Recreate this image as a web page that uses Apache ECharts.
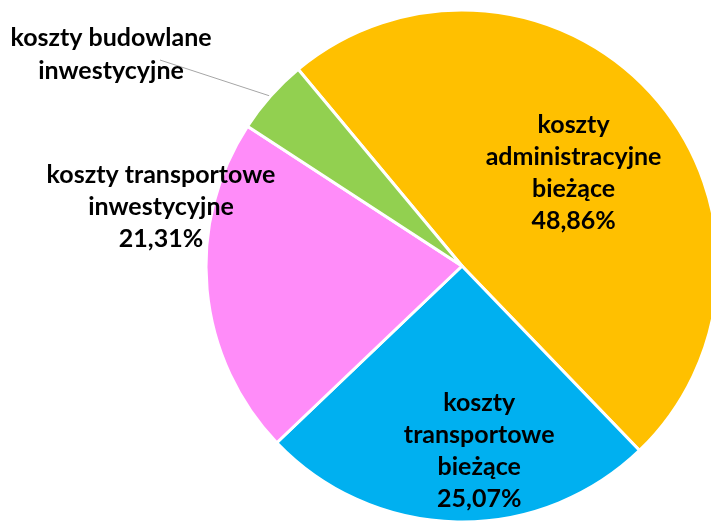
<!DOCTYPE html>
<html>
<head>
<meta charset="utf-8">
<script src="https://cdn.jsdelivr.net/npm/echarts@6/dist/echarts.min.js"></script>
<style>
  html, body { margin: 0; padding: 0; background: #fff; }
  #chart { width: 711px; height: 523px; }
</style>
</head>
<body>
<div id="chart"></div>
<script>
const categories = [
  'koszty\nadministracyjne\nbieżące',
  'koszty\ntransportowe\nbieżące',
  'koszty transportowe\ninwestycyjne',
  'koszty budowlane\ninwestycyjne'
];
const values = [48.86, 25.07, 21.31, 4.76];
const colors = ['#FFC000', '#00B0F0', '#FF8CF9', '#92D050'];
const showPercent = [true, true, true, false];

const chart = echarts.init(document.getElementById('chart'));

const fmt = v => v.toFixed(2).replace('.', ',') + '%';

const option = {
  animation: false,
  series: [
    {
      type: 'pie',
      center: [462, 266],
      radius: [0, 256],
      startAngle: 129.8,
      clockwise: true,
      itemStyle: { borderColor: '#fff', borderWidth: 3 },
      label: {
        color: '#000',
        fontFamily: 'Lato',
        fontWeight: 'bold',
        fontSize: 25,
        lineHeight: 32,
        align: 'center',
        overflow: 'none',
        formatter: p => showPercent[p.dataIndex] ? p.name + '\n' + fmt(p.value) : p.name
      },
      labelLine: { lineStyle: { color: '#A6A6A6', width: 1 } },
      labelLayout: p => {
        if (p.dataIndex === 0) return { dx: 14, dy: -6 };
        if (p.dataIndex === 1) return { dx: 20, dy: 54 };
        if (p.dataIndex === 2) return { x: 161, y: 207, align: 'center', verticalAlign: 'middle' };
        return {
          x: 111, y: 54, align: 'center', verticalAlign: 'middle',
          labelLinePoints: [[270, 96], [160, 60], [160, 60]]
        };
      },
      data: categories.map((name, i) => ({
        name,
        value: values[i],
        itemStyle: { color: colors[i] },
        label: {
          position: i < 2 ? 'inside' : 'outside',
          width: 300,
          overflow: 'none',
          lineHeight: i === 3 ? 33 : 32
        },
        labelLine: { show: i === 3 }
      }))
    }
  ]
};

chart.setOption(option);
</script>
</body>
</html>
